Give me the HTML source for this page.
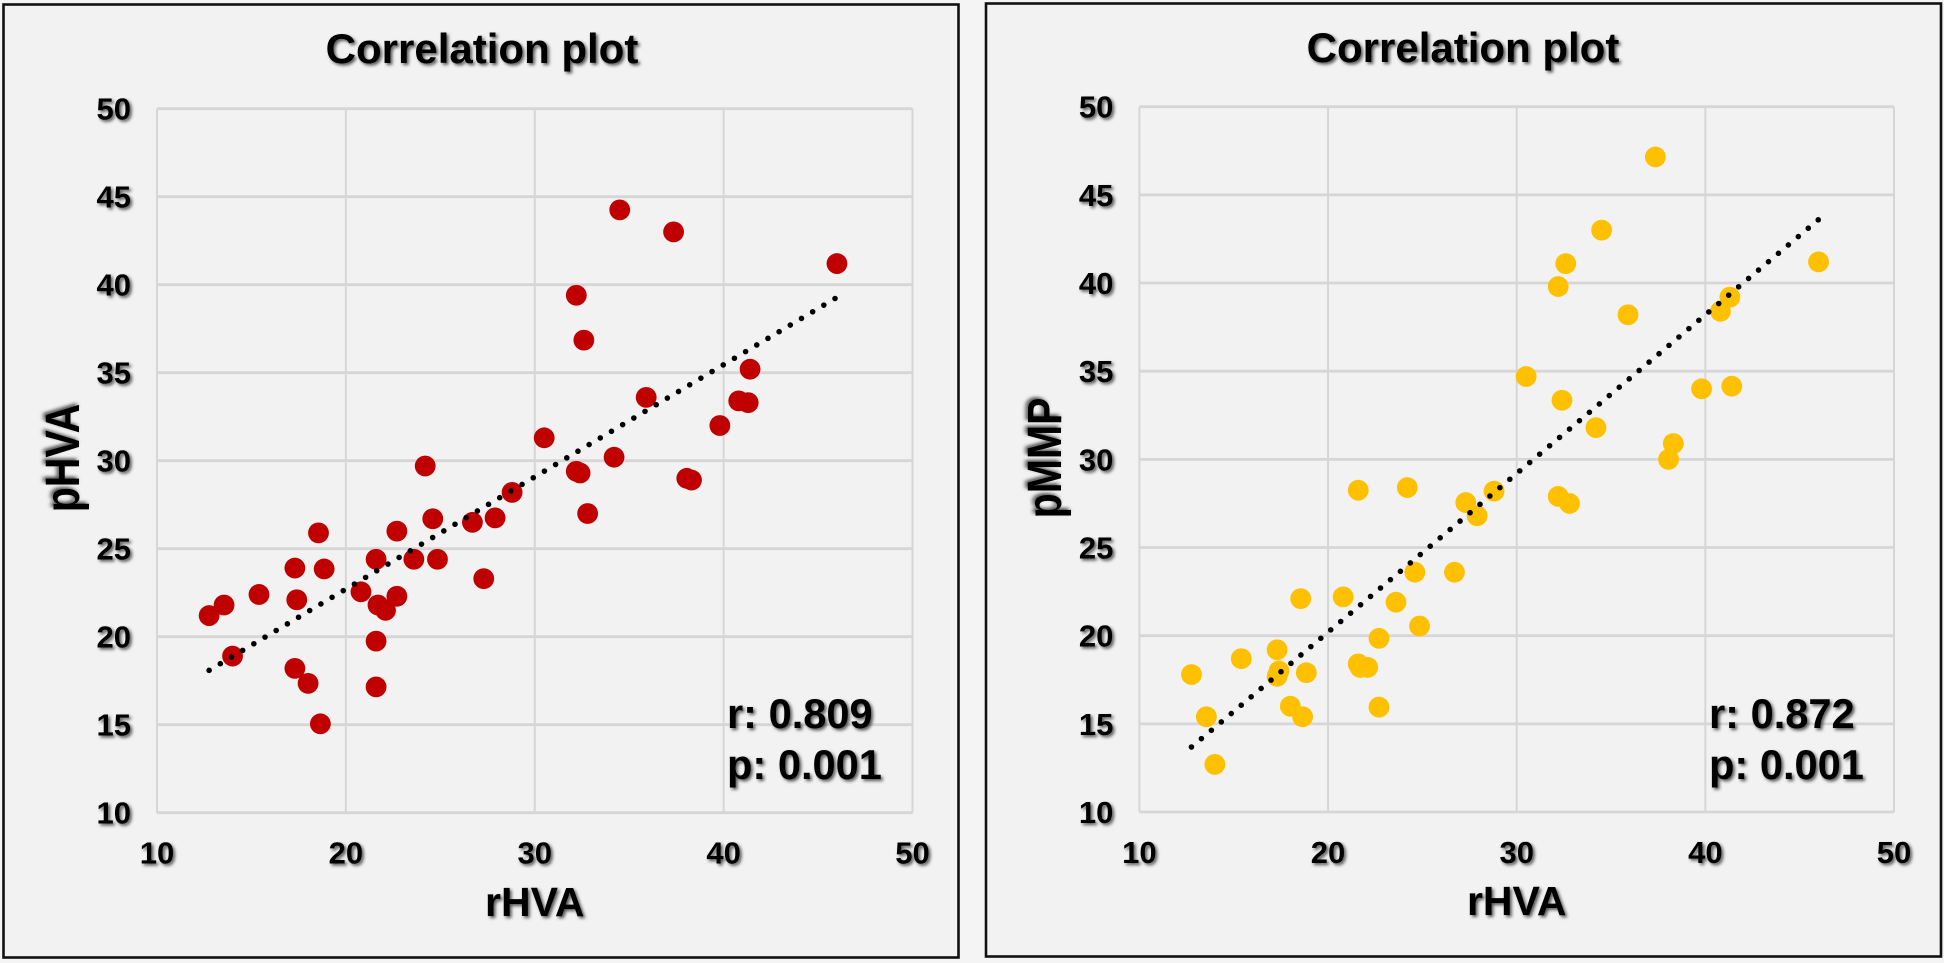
<!DOCTYPE html>
<html lang="en">
<head>
<meta charset="utf-8">
<title>Correlation plots</title>
<style>
  html, body { margin: 0; padding: 0; background: #f4f4f4; }
  svg { display: block; }
  text { font-family: "Liberation Sans", Arial, sans-serif; font-weight: bold; fill: #000; }
</style>
</head>
<body>
<svg id="figure" xmlns="http://www.w3.org/2000/svg" width="1944" height="963" viewBox="0 0 1944 963">
  <defs>
    <filter id="shadow" x="-20%" y="-20%" width="140%" height="140%">
      <feDropShadow dx="2" dy="2" stdDeviation="1.7" flood-color="#000" flood-opacity="0.65"/>
    </filter>
    <filter id="shadow-rot" x="-30%" y="-30%" width="160%" height="160%">
      <feDropShadow dx="2" dy="-2" stdDeviation="1.7" flood-color="#000" flood-opacity="0.65"/>
    </filter>
  </defs>
</svg>
<script>
// Shared axis tick labels
const xTickLabels = [10, 20, 30, 40, 50];
const yTickLabels = [10, 15, 20, 25, 30, 35, 40, 45, 50];

// Left chart: rHVA vs pHVA
const leftX = [12.76, 13.55, 14.0, 15.4, 17.3, 17.4, 17.3, 18.0, 18.65, 18.55, 18.85, 20.8, 21.6, 21.7, 22.1, 21.6, 21.6, 22.7, 22.7, 23.6, 24.2, 24.6, 24.85, 26.7, 27.3, 27.9, 28.8, 30.5, 32.2, 32.2, 32.4, 32.6, 32.8, 34.5, 34.2, 35.9, 37.35, 38.05, 38.3, 39.8, 40.8, 41.3, 41.4, 46.0];
const leftY = [21.2, 21.8, 18.9, 22.4, 23.9, 22.1, 18.2, 17.35, 15.05, 25.9, 23.85, 22.55, 24.4, 21.8, 21.5, 19.75, 17.15, 26.0, 22.3, 24.4, 29.7, 26.7, 24.4, 26.5, 23.3, 26.75, 28.2, 31.3, 39.4, 29.4, 29.3, 36.85, 27.0, 44.25, 30.2, 33.6, 43.0, 29.0, 28.9, 32.0, 33.4, 33.3, 35.2, 41.2];

// Right chart: rHVA vs pMMP
const rightX = [12.76, 13.55, 14.0, 15.4, 17.3, 17.4, 17.3, 18.0, 18.65, 18.55, 18.85, 20.8, 21.6, 21.6, 21.7, 21.7, 22.1, 22.7, 22.7, 23.6, 24.2, 24.6, 24.85, 26.7, 27.3, 27.9, 28.8, 30.5, 32.2, 32.2, 32.4, 32.6, 32.8, 34.5, 34.2, 35.9, 37.35, 38.05, 38.3, 39.8, 40.8, 41.3, 41.4, 46.0];
const rightY = [17.8, 15.4, 12.7, 18.7, 19.2, 18.0, 17.7, 16.0, 15.4, 22.1, 17.9, 22.2, 28.25, 18.4, 18.3, 18.2, 18.2, 19.85, 15.95, 21.9, 28.4, 23.6, 20.55, 23.6, 27.55, 26.8, 28.2, 34.7, 39.8, 27.9, 33.35, 41.1, 27.5, 43.0, 31.8, 38.2, 47.15, 30.0, 30.9, 34.0, 38.4, 39.2, 34.15, 41.2];

const NS = 'http://www.w3.org/2000/svg';
const root = document.getElementById('figure');

function make(parent, tag, attrs, content) {
  const el = document.createElementNS(NS, tag);
  for (const key in attrs) el.setAttribute(key, attrs[key]);
  if (content !== undefined) el.textContent = content;
  parent.appendChild(el);
  return el;
}

function regression(xs, ys) {
  const n = xs.length;
  const mx = xs.reduce((a, b) => a + b, 0) / n;
  const my = ys.reduce((a, b) => a + b, 0) / n;
  let sxy = 0, sxx = 0;
  xs.forEach((x, i) => { sxy += (x - mx) * (ys[i] - my); sxx += (x - mx) * (x - mx); });
  const slope = sxy / sxx;
  return { slope: slope, intercept: my - slope * mx };
}

function drawChart(cfg) {
  const g = make(root, 'g', {});
  
  

  const sx = v => cfg.left + (v - 10) / 40 * (cfg.right - cfg.left);
  const sy = v => cfg.bottom - (v - 10) / 40 * (cfg.bottom - cfg.top);

  const frame = make(g, 'rect', { x: cfg.fx, y: cfg.fy, width: cfg.fw, height: cfg.fh, fill: '#f2f2f2', stroke: '#111', 'stroke-width': 2.6 });
  
  

  yTickLabels.forEach(t => {
    const line = make(g, 'line', { x1: cfg.left, x2: cfg.right, y1: sy(t), y2: sy(t), stroke: '#d6d6d6', 'stroke-width': 2.8 });
    
    
    const label = make(g, 'text', { x: cfg.left - 26, y: sy(t) + 11, 'text-anchor': 'end', 'font-size': 31, filter: 'url(#shadow)' }, String(t));
    
    
  });

  xTickLabels.forEach(t => {
    const line = make(g, 'line', { x1: sx(t), x2: sx(t), y1: cfg.top, y2: cfg.bottom, stroke: '#d6d6d6', 'stroke-width': 2 });
    
    
    const label = make(g, 'text', { x: sx(t), y: cfg.bottom + 51, 'text-anchor': 'middle', 'font-size': 31, filter: 'url(#shadow)' }, String(t));
    
    
  });

  const title = make(g, 'text', { x: cfg.titleX, y: cfg.titleY, 'text-anchor': 'middle', 'font-size': 42, filter: 'url(#shadow)' }, 'Correlation plot');
  
  

  const xTitle = make(g, 'text', { x: sx(30), y: cfg.xTitleY, 'text-anchor': 'middle', 'font-size': 41, filter: 'url(#shadow)' }, 'rHVA');
  
  

  const yTitle = make(g, 'text', { transform: 'translate(' + cfg.yTitleX + ' 458) rotate(-90) scale(1 1.18)', 'text-anchor': 'middle', 'font-size': 41, filter: 'url(#shadow-rot)' }, cfg.yLabel);
  
  

  cfg.xs.forEach((x, i) => {
    const dot = make(g, 'circle', { cx: sx(x), cy: sy(cfg.ys[i]), r: 10.4, fill: cfg.color });
    
    
  });

  const fit = regression(cfg.xs, cfg.ys);
  const xMin = Math.min.apply(null, cfg.xs);
  const xMax = Math.max.apply(null, cfg.xs);
  const trend = make(g, 'line', {
    x1: sx(xMin), y1: sy(fit.slope * xMin + fit.intercept),
    x2: sx(xMax), y2: sy(fit.slope * xMax + fit.intercept),
    stroke: '#000', 'stroke-width': 5.6, 'stroke-linecap': 'round', 'stroke-dasharray': '0 13'
  });
  
  

  const rStat = make(g, 'text', { x: cfg.statX, y: 728, 'font-size': 41.6, filter: 'url(#shadow)' }, cfg.rText);
  
  
  const pStat = make(g, 'text', { x: cfg.statX, y: 779, 'font-size': 41.6, filter: 'url(#shadow)' }, cfg.pText);
  
  
}

drawChart({
  name: 'phva-correlation-chart', xs: leftX, ys: leftY, color: '#c00000', yLabel: 'pHVA',
  rText: 'r: 0.809', pText: 'p: 0.001',
  fx: 3.5, fy: 4.5, fw: 955, fh: 953,
  left: 157, right: 912.5, top: 108.7, bottom: 812.7,
  titleX: 482, titleY: 63, xTitleY: 916, yTitleX: 79, statX: 727
});

drawChart({
  name: 'pmmp-correlation-chart', xs: rightX, ys: rightY, color: '#ffc000', yLabel: 'pMMP',
  rText: 'r: 0.872', pText: 'p: 0.001',
  fx: 986, fy: 3.5, fw: 955, fh: 953,
  left: 1139.4, right: 1894, top: 106.7, bottom: 812,
  titleX: 1463, titleY: 62, xTitleY: 915, yTitleX: 1061, statX: 1709
});
</script>
</body>
</html>
